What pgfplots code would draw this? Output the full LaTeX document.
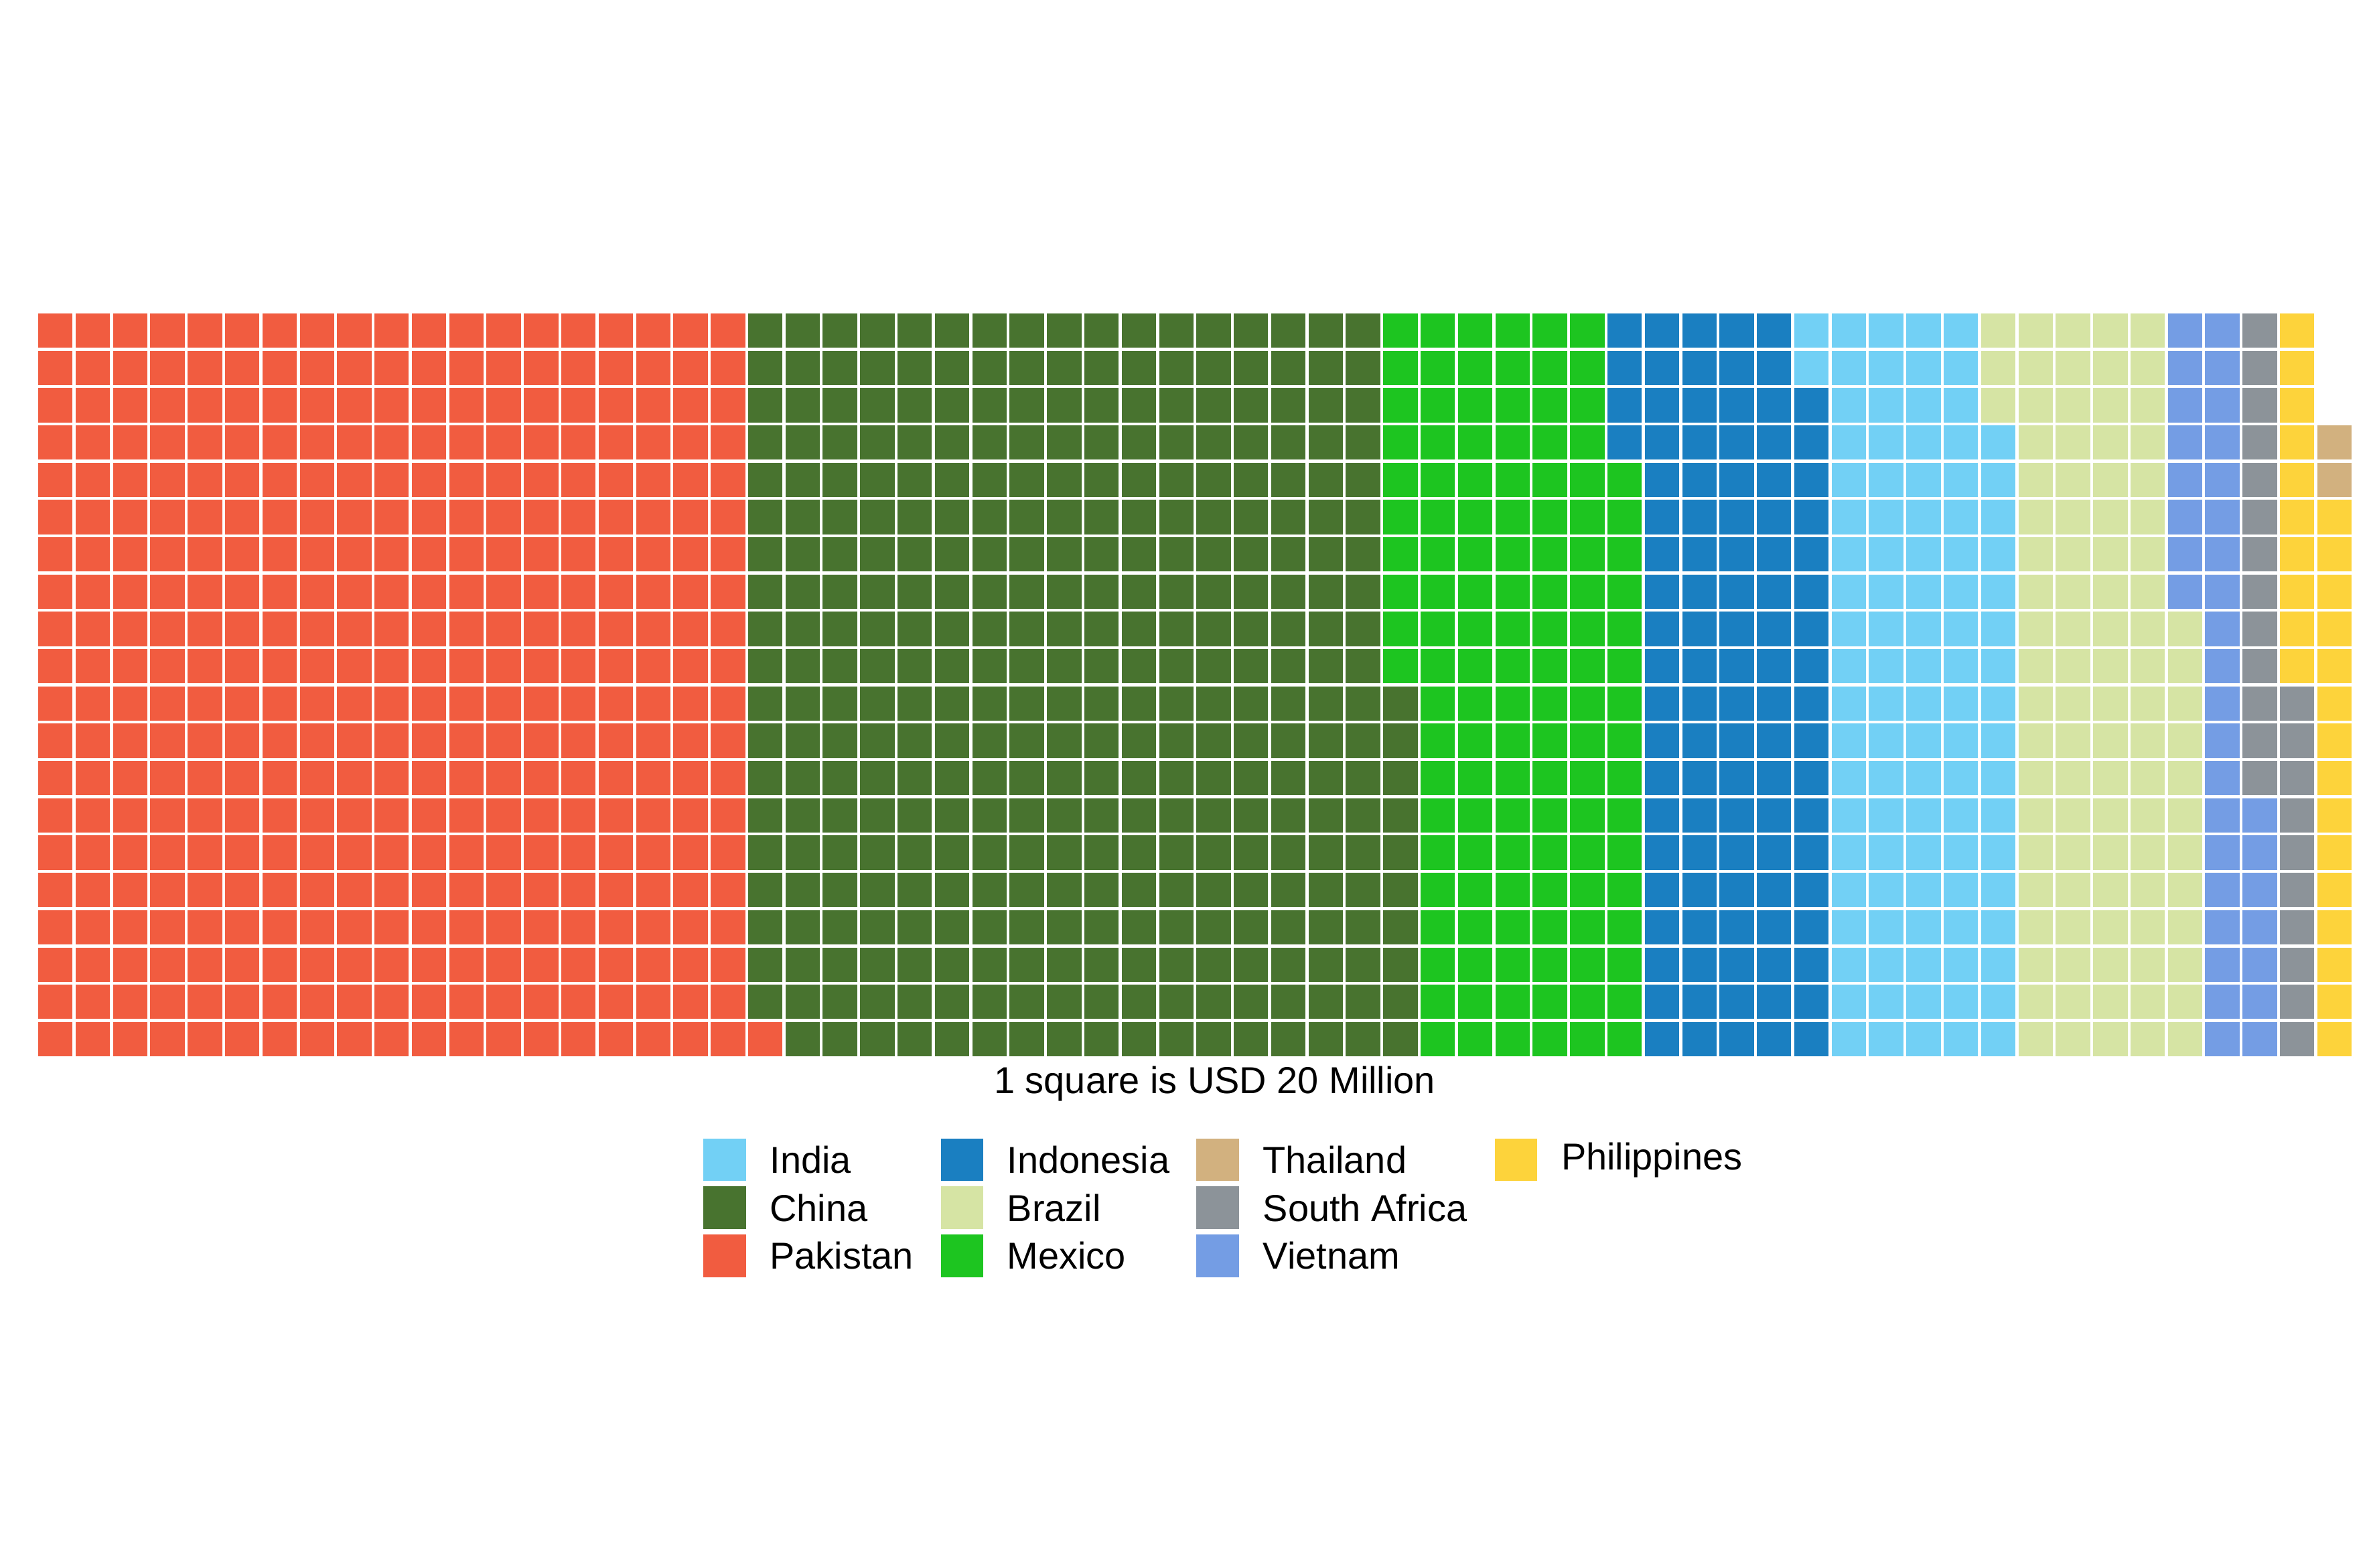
\documentclass[border=0pt]{standalone}
\usepackage{pgfplots}
\pgfplotsset{compat=1.18}
\usepackage{fontspec}
\setmainfont{Liberation Sans}
\definecolor{cPak}{RGB}{241,92,64}
\definecolor{cChi}{RGB}{72,115,47}
\definecolor{cMex}{RGB}{29,197,32}
\definecolor{cIdn}{RGB}{26,127,193}
\definecolor{cInd}{RGB}{114,208,245}
\definecolor{cBra}{RGB}{214,228,164}
\definecolor{cVie}{RGB}{116,157,228}
\definecolor{cSA}{RGB}{140,147,153}
\definecolor{cPhi}{RGB}{253,211,59}
\definecolor{cTha}{RGB}{210,177,127}
\begin{document}
\begin{tikzpicture}[x=1cm,y=1cm]
\path (0,0) rectangle (15.45,10.30);
\begin{axis}[at={(0.10cm,3.35cm)},anchor=south west,scale only axis,
  width=15.22cm,height=4.90cm,xmin=0,xmax=62,ymin=0,ymax=20,
  xtick={0,...,62},ytick={0,...,20},xticklabels={},yticklabels={},
  grid=major,major grid style={white,line width=0.55pt},
  axis line style={draw=none},tick style={draw=none},axis on top]
\addplot[fill=cPak,draw=none] coordinates {(0,0)(20,0)(20,1)(19,1)(19,20)(0,20)} -- cycle;
\addplot[fill=cChi,draw=none] coordinates {(19,1)(20,1)(20,0)(37,0)(37,10)(36,10)(36,20)(19,20)} -- cycle;
\addplot[fill=cMex,draw=none] coordinates {(36,10)(37,10)(37,0)(43,0)(43,16)(42,16)(42,20)(36,20)} -- cycle;
\addplot[fill=cIdn,draw=none] coordinates {(42,16)(43,16)(43,0)(48,0)(48,18)(47,18)(47,20)(42,20)} -- cycle;
\addplot[fill=cInd,draw=none] coordinates {(47,18)(48,18)(48,0)(53,0)(53,17)(52,17)(52,20)(47,20)} -- cycle;
\addplot[fill=cBra,draw=none] coordinates {(52,17)(53,17)(53,0)(58,0)(58,12)(57,12)(57,20)(52,20)} -- cycle;
\addplot[fill=cVie,draw=none] coordinates {(57,12)(58,12)(58,0)(60,0)(60,7)(59,7)(59,20)(57,20)} -- cycle;
\addplot[fill=cSA,draw=none] coordinates {(59,7)(60,7)(60,0)(61,0)(61,10)(60,10)(60,20)(59,20)} -- cycle;
\addplot[fill=cPhi,draw=none] coordinates {(60,10)(61,10)(61,0)(62,0)(62,15)(61,15)(61,20)(60,20)} -- cycle;
\addplot[fill=cTha,draw=none] coordinates {(61,15)(62,15)(62,17)(61,17)} -- cycle;
\end{axis}
\node[font=\fontsize{7}{8}\selectfont] at (7.84,3.18) {1 square is USD 20 Million};
\foreach \c/\t/\x/\r in {cInd/India/4.48/0,cChi/China/4.48/1,cPak/Pakistan/4.48/2,
  cIdn/Indonesia/6.04/0,cBra/Brazil/6.04/1,cMex/Mexico/6.04/2,
  cTha/Thailand/7.72/0,cSA/South Africa/7.72/1,cVie/Vietnam/7.72/2,cPhi/Philippines/9.68/0}{
  \fill[\c] (\x,{2.68-0.315*\r-0.14}) rectangle ++(0.28,0.28);
  \node[anchor=west,inner sep=0pt,font=\fontsize{7}{8}\selectfont] at (\x+0.43,{2.68-0.315*\r}) {\t};
}
\end{tikzpicture}
\end{document}
